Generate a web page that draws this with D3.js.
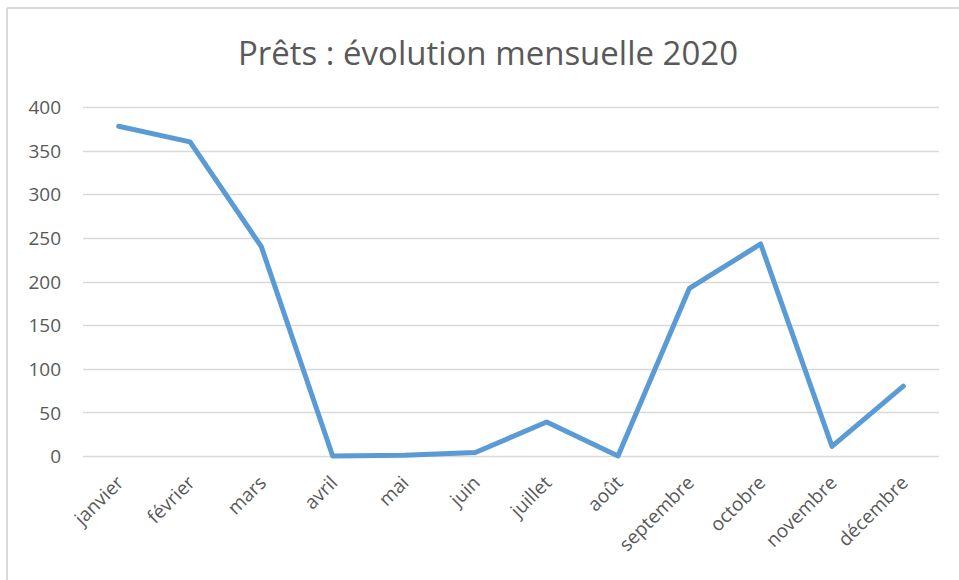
<!DOCTYPE html>
<html>
<head>
<meta charset="utf-8">
<script src="https://cdn.jsdelivr.net/npm/d3@7"></script>
<style>
  body { margin: 0; background: #fff; }
  text { font-family: "Open Sans", "Noto Sans", sans-serif; fill: #595959; }
</style>
</head>
<body>
<div id="chart"></div>
<script>
// ----------------------------------------------------------------------
// data

var months = ["janvier", "février", "mars", "avril", "mai", "juin",
              "juillet", "août", "septembre", "octobre", "novembre", "décembre"];
var prets = [378, 360, 240, 0, 1, 4, 39, 0, 192, 243, 11, 80];
var yTicks = [0, 50, 100, 150, 200, 250, 300, 350, 400];
var chartTitle = "Prêts : évolution mensuelle 2020";

// ----------------------------------------------------------------------

var width = 959, height = 580;
var margin = {left: 83, right: 20, top: 107, bottom: 124};

var svg = d3.select("#chart")
            .append("svg")
            .attr("width", width)
            .attr("height", height);

// outer frame (only top and left edges visible in the crop)
svg.append("line")
   .attr("x1", 7).attr("y1", 8).attr("x2", width).attr("y2", 8)
   .attr("stroke", "#d9d9d9").attr("stroke-width", 2);
svg.append("line")
   .attr("x1", 7).attr("y1", 8).attr("x2", 7).attr("y2", height)
   .attr("stroke", "#d9d9d9").attr("stroke-width", 2);

var x = d3.scaleBand()
          .domain(months)
          .range([margin.left, 939]);

var y = d3.scaleLinear()
          .domain([0, 400])
          .range([456, margin.top]);

// gridlines
svg.append("g")
   .selectAll("line")
   .data(yTicks)
   .enter()
   .append("line")
   .attr("x1", margin.left)
   .attr("x2", 939)
   .attr("y1", function(d) { return Math.round(y(d)) + 0.5; })
   .attr("y2", function(d) { return Math.round(y(d)) + 0.5; })
   .attr("stroke", "#d9d9d9")
   .attr("stroke-width", 1.3);

// y axis labels
var yAxis = svg.append("g")
   .attr("transform", "translate(" + 61 + ",0)")
   .call(d3.axisLeft(y).tickValues(yTicks).tickSize(0).tickPadding(0));
yAxis.select(".domain").remove();
yAxis.selectAll("text")
     .attr("font-size", 19)
     .attr("dy", "0.35em")
     .style("font-family", "'Open Sans', sans-serif")
     .attr("fill", "#595959");

// x axis labels
var xAxis = svg.append("g")
   .attr("transform", "translate(0," + 456 + ")")
   .call(d3.axisBottom(x).tickSize(0).tickPadding(0));
xAxis.select(".domain").remove();
xAxis.selectAll("text")
     .attr("font-size", 19)
     .style("font-family", "'Open Sans', sans-serif")
     .attr("fill", "#595959")
     .attr("text-anchor", "end")
     .attr("dy", 0)
     .attr("y", 0)
     .attr("transform", "translate(6,28) rotate(-45)");

// line
var line = d3.line()
             .x(function(d, i) { return x(months[i]) + x.bandwidth() / 2; })
             .y(function(d) { return y(d); });

svg.append("path")
   .datum(prets)
   .attr("d", line)
   .attr("fill", "none")
   .attr("stroke", "#5b9bd5")
   .attr("stroke-width", 5)
   .attr("stroke-linejoin", "round")
   .attr("stroke-linecap", "round");

// title
svg.append("text")
   .attr("x", 488)
   .attr("y", 65)
   .attr("text-anchor", "middle")
   .attr("font-size", 32)
   .attr("textLength", 500)
   .attr("lengthAdjust", "spacingAndGlyphs")
   .attr("fill", "#595959")
   .text(chartTitle);
</script>
</body>
</html>
